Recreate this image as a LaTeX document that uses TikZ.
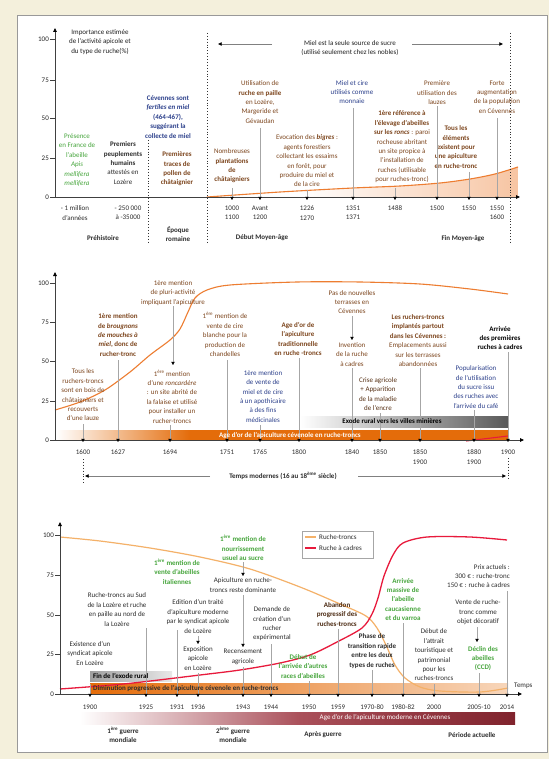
\documentclass[tikz,border=0pt]{standalone}
\usepackage{fontspec}
\setmainfont{Carlito}
\usetikzlibrary{arrows.meta}
\definecolor{bgbeige}{RGB}{244,240,220}
\definecolor{tbrown}{RGB}{125,70,30}
\definecolor{tblue}{RGB}{45,65,140}
\definecolor{tgreen}{RGB}{70,165,60}
\definecolor{tdark}{RGB}{45,45,45}
\definecolor{orng}{RGB}{237,125,49}
\definecolor{bandor}{RGB}{228,108,10}
\definecolor{lorng}{RGB}{244,177,105}
\definecolor{redc}{RGB}{232,26,60}
\definecolor{maroonA}{RGB}{170,80,90}
\definecolor{maroonB}{RGB}{128,35,45}
\newcommand\myfs{\fontsize{7}{9.4}\selectfont}
\newcommand\mypin[4]{\coordinate (#1a) at (#2,#3);\coordinate (#1b) at (#2,#4);\draw[pinln] (#1a) -- (#1b);}
\tikzset{
 txt/.style={font=\myfs, align=center, inner sep=0pt},
 tbr/.style={txt, text=tbrown},
 tbl/.style={txt, text=tblue},
 tgn/.style={txt, text=tgreen, font=\myfs\bfseries},
 tdk/.style={txt, text=tdark},
 pinln/.style={draw=gray!70, line width=0.5pt, -{Triangle[width=3.4pt,length=3.2pt,color=black]}},
 axisln/.style={draw=gray!50!black, line width=0.8pt, -{Triangle[width=3.6pt,length=4pt,color=black]}},
 dotln/.style={draw=gray!40!black, line width=0.9pt, dotted},
 harrow/.style={draw=gray, line width=0.5pt, -{Triangle[width=3.4pt,length=3.6pt,color=black]}},
 ylab/.style={font=\myfs, text=gray!30!black, anchor=east, inner sep=1pt},
 yrlab/.style={txt, text=tdark},
 era/.style={txt, text=tdark, font=\myfs\bfseries},
 ticklnA/.style={draw=gray!50!black, line width=0.6pt}
}
\begin{document}
\begin{tikzpicture}[x=1pt,y=-1pt]
\useasboundingbox (0,0) rectangle (549,759);
\fill[bgbeige] (0,0) rectangle (549,759);
\filldraw[fill=white, draw=gray!80, line width=0.7pt] (17,15) rectangle (547,752);

%================ PANEL 1 ================
\coordinate (o1) at (55,197);
\coordinate (y1top) at (55,28);
\coordinate (x1end) at (520,197);
\begin{scope}
\clip plot[smooth] coordinates {(207,197) (280,192) (353,188) (400,186) (440,183) (470,179) (495,174) (518,167)} -- (518,197) -- cycle;
\shade[left color=white, right color=orng!45] (300,160) rectangle (518,197);
\end{scope}
\draw[orng, line width=1.1pt] plot[smooth] coordinates {(207,197) (280,192) (353,188) (400,186) (440,183) (470,179) (495,174) (518,167)};
\draw[axisln] (o1) -- (y1top);
\draw[axisln] (o1) -- (x1end);
\foreach \v/\yy in {100/39,75/80,50/118,25/158,0/197}{
 \draw[ticklnA] (50,\yy) -- (55,\yy);
 \node[ylab] (p1y\v) at (50,\yy) {\v};
}
\coordinate (d1a) at (148,140); \coordinate (d1b) at (148,243);
\coordinate (d2a) at (207,33); \coordinate (d2b) at (207,243);
\coordinate (d3a) at (510,33); \coordinate (d3b) at (510,243);
\draw[dotln] (d1a) -- (d1b);
\draw[dotln] (d2a) -- (d2b);
\draw[dotln] (d3a) -- (d3b);

\node[txt, text=gray!25!black] (imp) at (100,42) {Importance estimée\\de l'activité apicole et\\du type de ruche(\%)};
\node[txt, text=gray!25!black] (miel) at (350,48) {Miel est la seule source de sucre\\(utilisé seulement chez les nobles)};
\coordinate (mlA) at (272,44); \coordinate (mlB) at (218,44);
\coordinate (mrA) at (412,44); \coordinate (mrB) at (503,44);
\draw[harrow] (mlA) -- (mlB);
\draw[harrow] (mrA) -- (mrB);

\node[txt, text=tgreen] (pres) at (77,160) {Présence\\en France de\\l'abeille\\\textit{Apis}\\\textit{mellifera}\\\textit{mellifera}};
\node[txt, text=tdark] (peup) at (123,163) {\textbf{Premiers}\\\textbf{peuplements}\\\textbf{humains}\\attestés en\\Lozère};
\node[txt, text=tblue, font=\myfs\bfseries] (fert) at (168,117) {Cévennes sont\\\textit{fertiles en miel}\\(464-467),\\suggérant la\\collecte de miel};
\node[txt, text=tbrown, font=\myfs\bfseries] (poll) at (177,169) {Premières\\traces de\\pollen de\\châtaignier};
\node[tbr] (plant) at (232,166) {Nombreuses\\\textbf{plantations}\\\textbf{de}\\\textbf{châtaigniers}};
\node[tbr] (paille) at (260,102) {Utilisation de\\\textbf{ruche en paille}\\en Lozère,\\Margeride et\\Gévaudan};
\node[tbr] (bigres) at (307,161) {Evocation des \textbf{\textit{bigres}} :\\agents forestiers\\collectant les essaims\\en forêt, pour\\produire du miel et\\de la cire};
\node[tbl] (monn) at (352,92) {Miel et cire\\utilisés comme\\monnaie};
\node[tbr] (ronc) at (402,147) {\textbf{1ère référence à}\\\textbf{l'élevage d'abeilles}\\\textbf{sur les \textit{roncs}} : paroi\\rocheuse abritant\\un site propice à\\l'installation de\\ruches (utilisable\\pour ruches-tronc)};
\node[tbr] (lauz) at (437,93) {Première\\utilisation des\\lauzes};
\node[txt, text=tbrown, font=\myfs\bfseries] (tous1) at (456,147) {Tous les\\éléments\\existent pour\\une apiculture\\en ruche-tronc};
\node[tbr] (forte) at (497,97) {Forte\\augmentation\\de la population\\en Cévennes};

\mypin{q1}{232}{188}{200}
\mypin{q2}{260}{128}{200}
\mypin{q3}{307}{190}{200}
\mypin{q4}{353}{108}{200}
\mypin{q5}{395}{188}{200}
\mypin{q6}{437}{106}{200}
\mypin{q7}{469}{172}{200}
\mypin{q8}{497}{118}{200}

\node[yrlab] (l1a) at (75,213) {- 1 million\\d'années};
\node[yrlab] (l1b) at (128,213) {- 250 000\\à -35000};
\node[yrlab] (l1c) at (232,213) {1000\\1100};
\node[yrlab] (l1d) at (260,213) {Avant\\1200};
\node[yrlab] (l1e) at (307,213) {1226\\1270};
\node[yrlab] (l1f) at (353,213) {1351\\1371};
\node[yrlab] (l1g) at (395,208) {1488};
\node[yrlab] (l1h) at (437,208) {1500};
\node[yrlab] (l1i) at (469,208) {1550};
\node[yrlab] (l1j) at (497,213) {1550\\1600};
\node[era] (e1) at (103,238) {Préhistoire};
\node[era] (e2) at (178,234) {Époque\\romaine};
\node[era] (e3) at (262,238) {Début Moyen-âge};
\node[era] (e4) at (463,239) {Fin Moyen-âge};

%================ PANEL 2 ================
\coordinate (o2) at (55,440);
\coordinate (y2top) at (55,272);
\coordinate (x2end) at (524,440);
\shade[left color=white, right color=gray!70!black] (300,416) rectangle (508,427);
\shade[left color=white, right color=bandor] (56,430) rectangle (190,440);
\fill[bandor] (190,430) rectangle (508,440);
\draw[orng, line width=1.1pt] plot[smooth] coordinates {(55,410) (80,402) (105,390) (130,372) (150,355) (170,340) (180,329) (188,312) (195,298) (207,290) (230,285) (297,282) (360,282) (420,284) (470,289) (508,294)};
\coordinate (rA) at (466,441); \coordinate (rB) at (508,436);
\draw[redc, line width=1.1pt] (rA) -- (rB);
\draw[axisln] (o2) -- (y2top);
\draw[axisln] (o2) -- (x2end);
\foreach \v/\yy in {100/283,75/322,50/361,25/401,0/440}{
 \draw[ticklnA] (50,\yy) -- (55,\yy);
 \node[ylab] (p2y\v) at (50,\yy) {\v};
}

\node[tbr] (tousr) at (83,395) {Tous les\\ruchers-troncs\\sont en bois de\\châtaigniers et\\recouverts\\d'une lauze};
\node[txt, text=tbrown, font=\myfs\bfseries] (broug) at (118,335) {1ère mention\\de \textit{brougnons}\\\textit{de mouches à}\\\textit{miel}, donc de\\rucher-tronc};
\node[tbr] (pluri) at (173,293) {1ère mention\\de pluri-activité\\impliquant l'apiculture};
\node[tbr] (cire) at (225,334.5) {1\textsuperscript{ère} mention de\\vente de cire\\blanche pour la\\production de\\chandelles};
\node[tbr] (roncard) at (172,396.5) {1\textsuperscript{ère} mention\\d'une \textit{roncardère}\\: un site abrité de\\la falaise et utilisé\\pour installer un\\rucher-troncs};
\node[tbl] (apoth) at (263,396.5) {1ère mention\\de vente de\\miel et de cire\\à un apothicaire\\à des fins\\médicinales};
\node[txt, text=tbrown, font=\myfs\bfseries] (agedor) at (298,339) {Age d'or de\\l'apiculture\\traditionnelle\\en ruche -troncs};
\node[tbr] (pasterr) at (352,302) {Pas de nouvelles\\terrasses en\\Cévennes};
\node[tbr] (invent) at (352,354.5) {Invention\\de la ruche\\à cadres};
\node[txt, text=tbrown!70!black] (crise) at (378,394) {Crise agricole\\+ Apparition\\de la maladie\\de l'encre};
\node[tbr] (partout) at (418,340.5) {\textbf{Les ruchers-troncs}\\\textbf{implantés partout}\\\textbf{dans les Cévennes :}\\Emplacements aussi\\sur les terrasses\\abandonnées};
\node[tbl] (popul) at (476,387) {Popularisation\\de l'utilisation\\du sucre issu\\des ruches avec\\l'arrivée du café};
\node[txt, text=black, font=\myfs\bfseries] (arriv) at (500,338) {Arrivée\\des premières\\ruches à cadres};

\mypin{s1}{83}{424}{442}
\mypin{s2}{118}{360}{442}
\mypin{s3}{173}{306}{365}
\mypin{s4}{170}{425}{442}
\mypin{s5}{227}{360}{442}
\mypin{s6}{260}{425}{442}
\mypin{s7}{299}{358}{442}
\mypin{s8}{352}{316}{340}
\mypin{s9}{352}{368}{442}
\mypin{s10}{380}{413}{442}
\mypin{s11}{420}{368}{442}
\mypin{s12}{474}{410}{442}
\mypin{s13}{508}{352}{442}

\node[txt, font=\myfs\bfseries, text=white] (band2) at (290,435.5) {Age d'or de l'apiculture  cévenole en ruche-troncs};
\node[txt, font=\myfs\bfseries, text=black] (exode) at (392,421.5) {Exode rural vers les villes minières};

\node[yrlab] (l2a) at (83,452) {1600};
\node[yrlab] (l2b) at (118,452) {1627};
\node[yrlab] (l2c) at (170,452) {1694};
\node[yrlab] (l2d) at (227,452) {1751};
\node[yrlab] (l2e) at (260,452) {1765};
\node[yrlab] (l2f) at (299,452) {1800};
\node[yrlab] (l2g) at (352,452) {1840};
\node[yrlab] (l2h) at (380,452) {1850};
\node[yrlab] (l2i) at (420,457) {1850\\1900};
\node[yrlab] (l2j) at (474,457) {1880\\1900};
\node[yrlab] (l2k) at (508,452) {1900};

\coordinate (dm1a) at (83,459); \coordinate (dm1b) at (83,483);
\coordinate (dm2a) at (508,458); \coordinate (dm2b) at (508,481);
\draw[dotln] (dm1a) -- (dm1b);
\draw[dotln] (dm2a) -- (dm2b);
\node[era] (tmod) at (283,476) {Temps modernes (16 au 18\textsuperscript{ème} siècle)};
\coordinate (tmA) at (210,476); \coordinate (tmB) at (85,476);
\coordinate (tmC) at (358,476); \coordinate (tmD) at (506,476);
\draw[harrow] (tmA) -- (tmB);
\draw[harrow] (tmC) -- (tmD);

%================ PANEL 3 ================
\coordinate (o3) at (60,694);
\coordinate (y3top) at (60,522);
\coordinate (x3end) at (522,694);
\shade[left color=gray!75, right color=gray!18] (90,671) rectangle (172,681);
\shade[left color=bandor, right color=bandor!28] (90,683) rectangle (508,693);
\draw[lorng, line width=1.2pt] plot[smooth] coordinates {(60,537) (100,541) (150,548) (200,557) (250,569) (300,587) (340,604) (366,616) (377,628) (386,645) (395,665) (405,678) (420,687) (440,691) (480,692) (508,688)};
\draw[redc, line width=1.3pt] plot[smooth] coordinates {(60,689) (100,686) (133,683) (200,675) (240,670) (280,663) (310,655) (337,642) (362,628) (372,614) (378,598) (384,576) (393,555) (403,543) (427,537) (470,537) (507,540)};
\draw[axisln] (o3) -- (y3top);
\draw[axisln] (o3) -- (x3end);
\foreach \v/\yy in {100/535,75/575,50/615,25/654,0/694}{
 \draw[ticklnA] (55,\yy) -- (60,\yy);
 \node[ylab] (p3y\v) at (55,\yy) {\v};
}
\node[txt, text=tdark, anchor=west] (temps) at (514,686) {Temps};

% legend
\draw[gray!70, line width=0.6pt, fill=white] (302,531) rectangle (373,558);
\coordinate (lgA) at (305,537); \coordinate (lgB) at (316,537);
\coordinate (lgC) at (305,548); \coordinate (lgD) at (316,548);
\draw[lorng, line width=1.5pt] (lgA) -- (lgB);
\draw[redc, line width=1.5pt] (lgC) -- (lgD);
\node[txt, text=tdark, anchor=west] (lg1) at (319,537) {Ruche-troncs};
\node[txt, text=tdark, anchor=west] (lg2) at (319,548) {Ruche à cadres};

\node[tdk] (syndic) at (90,653.5) {Existence d'un\\syndicat apicole\\En Lozère};
\node[tdk] (sud) at (117,609.5) {Ruche-troncs au Sud\\de la Lozère et ruche\\en paille au nord de\\la Lozère};
\node[tgn] (ital) at (177,571.5) {1\textsuperscript{ère} mention de\\vente d'abeilles\\italiennes};
\node[tdk] (edit) at (198,616.5) {Edition d'un traité\\d'apiculture moderne\\par le syndicat apicole\\de Lozère};
\node[tdk] (expo) at (198,658.5) {Exposition\\apicole\\en Lozère};
\node[tgn] (nourr) at (243,548) {1\textsuperscript{ère} mention de\\nourrissement\\usuel au sucre};
\node[tdk] (apidom) at (243,585) {Apiculture en ruche-\\troncs reste dominante};
\node[tdk] (recens) at (243,657) {Recensement\\agricole};
\node[tdk] (demand) at (272,624) {Demande de\\création d'un\\rucher\\expérimental};
\node[tgn] (autres) at (303,666.5) {Début de\\l'arrivée d'autres\\races d'abeilles};
\node[txt, text=tbrown!60!black, font=\myfs\bfseries] (aband) at (337,614.5) {Abandon\\progressif des\\ruches-troncs};
\node[txt, text=tdark, font=\myfs\bfseries] (phase) at (372,651) {Phase de\\transition rapide\\entre les deux\\types de ruches};
\node[tgn] (massiv) at (403,599.5) {Arrivée\\massive de\\l'abeille\\caucasienne\\et du varroa};
\node[tdk] (attr) at (434,655) {Début de\\l'attrait\\touristique et\\patrimonial\\pour les\\ruches-troncs};
\node[txt, text=tdark, align=right, anchor=east] (prix) at (510,576) {Prix actuels :\\300 € : ruche-tronc\\150 € : ruche à cadres};
\node[tdk] (decor) at (478,612.5) {Vente de ruche-\\tronc comme\\objet décoratif};
\node[tgn] (declin) at (483,658.5) {Déclin des\\abeilles\\(CCD)};

\mypin{u1}{90}{684}{697}
\mypin{u2}{146}{628}{697}
\mypin{u3}{177}{630}{697}
\mypin{u4}{198}{636}{644}
\mypin{u5}{198}{673}{697}
\mypin{u6}{243}{562}{576}
\mypin{u7}{243}{595}{647}
\mypin{u8}{243}{667}{697}
\mypin{u9}{271}{644}{697}
\mypin{u10}{309}{681}{697}
\mypin{u11}{338}{629}{697}
\mypin{u12}{372}{670}{697}
\mypin{u13}{403}{623}{697}
\mypin{u14}{434}{684}{697}
\mypin{u15}{477}{627}{642}
\mypin{u16}{479}{673}{697}
\mypin{u17}{507}{591}{697}

\node[txt, font=\myfs\bfseries, text=black, anchor=west] (finex) at (93,676) {Fin de l'exode rural};
\node[txt, font=\myfs\bfseries, text=tdark, anchor=west] (dimin) at (93,688.5) {Diminution progressive de l'apiculture cévenole en ruche-troncs};

\node[yrlab] (l3a) at (90,707) {1900};
\node[yrlab] (l3b) at (146,707) {1925};
\node[yrlab] (l3c) at (177,707) {1931};
\node[yrlab] (l3d) at (198,707) {1936};
\node[yrlab] (l3e) at (243,707) {1943};
\node[yrlab] (l3f) at (271,707) {1944};
\node[yrlab] (l3g) at (309,707) {1950};
\node[yrlab] (l3h) at (338,707) {1959};
\node[yrlab] (l3i) at (372,707) {1970-80};
\node[yrlab] (l3j) at (403,707) {1980-82};
\node[yrlab] (l3k) at (434,707) {2000};
\node[yrlab] (l3l) at (479,707) {2005-10};
\node[yrlab] (l3m) at (507,707) {2014};

\shade[left color=white, right color=maroonA] (80,712) rectangle (300,724);
\shade[left color=maroonA, right color=maroonB] (300,712) rectangle (515,724);
\node[txt, text=white] (moder) at (385,718) {Age d'or de l'apiculture  moderne en Cévennes};

\node[era] (g1) at (123,735) {1\textsuperscript{ère} guerre\\mondiale};
\node[era] (g2) at (233,735) {2\textsuperscript{ème} guerre\\mondiale};
\node[era] (apres) at (323,735) {Après guerre};
\node[era] (actu) at (472,735) {Période actuelle};
\end{tikzpicture}
\end{document}
